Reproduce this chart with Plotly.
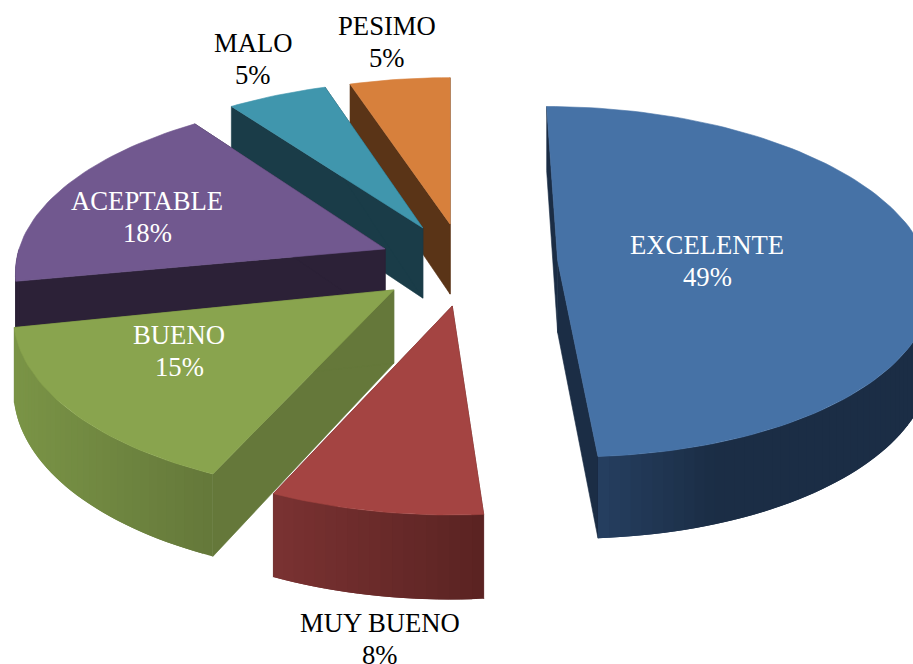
import math
import plotly.graph_objects as go

# Survey results
categories = ["EXCELENTE", "MUY BUENO", "BUENO", "ACEPTABLE", "MALO", "PESIMO"]
percentages = [49, 8, 15, 18, 5, 5]

# Slice colours: top face, side face, curved wall left end, curved wall right end
top_colors = ["#4672A6", "#A44442", "#89A44E", "#71588F", "#4096AD", "#D7803C"]
side_colors = ["#1B2D45", "#5A2322", "#65783A", "#2C2137", "#1A3C48", "#5A3417"]
wall_left = ["#263F60", "#7A3232", "#7A9446", "#2C2137", "#1A3C48", "#5A3417"]
wall_right = ["#1B2D45", "#5A2322", "#64783A", "#2C2137", "#1A3C48", "#5A3417"]
wall_fade = [0.35, 1.0, 1.0, 1.0, 1.0, 1.0]

label_color = ["white", "black", "white", "white", "black", "black"]
label_anchor = [(707, 245), (380, 623), (179, 335), (147, 201), (253, 43), (387, 26)]

WIDTH, HEIGHT = 913, 664
FONT = "Liberation Serif"
FONT_SIZE = 26.7
LINE_GAP = 31.5

# Perspective camera for the pie's plane (radius = 1 in plane units)
VANISH_X, CENTER_Y = 450.0, 264.0
PIE_OFFSET_X = 14.0
RADIUS_X, RADIUS_Y = 370.0, 173.0
PERSPECTIVE = 0.12
EXPLODE = 0.24
THICKNESS = 72.0

# Small per-slice placement offsets: pixels after projection, degrees of turn
slice_dx = [5, 5, 1, 3, -1.5, 0]
slice_dy = [-2, 0, 0, 0, 0, 0]
slice_turn = [0, -0.6, -1.0, 0, 0, 0]


def project(px, py, drop=0.0, dx=0.0, dy=0.0):
    """Map a plane point (px right, py towards viewer) to page pixels."""
    w = 1.0 - PERSPECTIVE * py
    return (VANISH_X + (PIE_OFFSET_X + RADIUS_X * px) / w + dx,
            CENTER_Y + (RADIUS_Y * py + drop) / w + dy)


def polar(deg, apex):
    a = math.radians(deg)
    return apex[0] + math.sin(a), apex[1] - math.cos(a)


def hex_mix(c1, c2, t):
    v1 = [int(c1[i:i + 2], 16) for i in (1, 3, 5)]
    v2 = [int(c2[i:i + 2], 16) for i in (1, 3, 5)]
    return "#" + "".join(f"{round(a + (b - a) * t):02X}" for a, b in zip(v1, v2))


def face(fig, points, color, outline=0.6):
    xs, ys = zip(*points)
    fig.add_trace(go.Scatter(
        x=list(xs) + [xs[0]], y=list(ys) + [ys[0]], mode="lines", fill="toself",
        fillcolor=color, line=dict(color=color, width=outline),
        hoverinfo="skip", showlegend=False))


def arc_angles(start, end, step=1.5):
    n = max(2, int((end - start) / step))
    return [start + (end - start) * i / n for i in range(n + 1)]


fig = go.Figure()

# Slice spans run clockwise from twelve o'clock
total = sum(percentages)
spans = []
cursor = 0.0
for value in percentages:
    sweep = 360.0 * value / total
    spans.append((cursor, cursor + sweep))
    cursor += sweep

# Paint far slices first so nearer ones cover them
for i in reversed(range(len(categories))):
    start, end = spans[i]
    mid = math.radians((start + end) / 2)
    apex = (EXPLODE * math.sin(mid), -EXPLODE * math.cos(mid))
    start += slice_turn[i]
    end += slice_turn[i]
    shift = dict(dx=slice_dx[i], dy=slice_dy[i])
    angles = arc_angles(start, end)
    rim = [polar(a, apex) for a in angles]

    # Radial side walls
    for edge in (rim[0], rim[-1]):
        face(fig, [project(*apex, **shift), project(*edge, **shift),
                   project(*edge, THICKNESS, **shift), project(*apex, THICKNESS, **shift)],
             side_colors[i])

    # Curved outer wall on the side facing the viewer. Strips run from the right
    # end to the left end and each one overlaps the one painted before it.
    lo, hi = max(start, 90.0), min(end, 270.0)
    if hi > lo:
        strips = arc_angles(lo, hi)
        xs = [project(*polar(a, apex), **shift)[0] for a in strips]
        x_min, x_max = min(xs), max(xs)
        for k in range(len(strips) - 1):
            a = strips[k]
            b = strips[min(k + 2, len(strips) - 1)]
            pa, pb = polar(a, apex), polar(b, apex)
            xc = (project(*pa, **shift)[0] + project(*polar(strips[k + 1], apex), **shift)[0]) / 2
            reach = min(1.0, (xc - x_min) / max(1.0, x_max - x_min) / wall_fade[i])
            face(fig, [project(*pa, **shift), project(*pb, **shift),
                       project(*pb, THICKNESS, **shift), project(*pa, THICKNESS, **shift)],
                 hex_mix(wall_left[i], wall_right[i], reach), outline=0)

    # Top face
    face(fig, [project(*apex, **shift)] + [project(*p, **shift) for p in rim], top_colors[i])

# Two-line labels: category name above its percentage
for name, value, anchor, color in zip(categories, percentages, label_anchor, label_color):
    for text, dy in ((name, 0.0), (f"{value}%", LINE_GAP)):
        fig.add_annotation(x=anchor[0], y=anchor[1] + dy, text=text, showarrow=False,
                           xanchor="center", yanchor="middle",
                           font=dict(family=FONT, size=FONT_SIZE, color=color))

fig.update_layout(
    width=WIDTH, height=HEIGHT, margin=dict(l=0, r=0, t=0, b=0),
    paper_bgcolor="white", plot_bgcolor="white", showlegend=False,
    xaxis=dict(range=[0, WIDTH], visible=False, fixedrange=True),
    yaxis=dict(range=[HEIGHT, 0], visible=False, fixedrange=True),
)
fig.write_html("out.html", config=dict(displayModeBar=False))
